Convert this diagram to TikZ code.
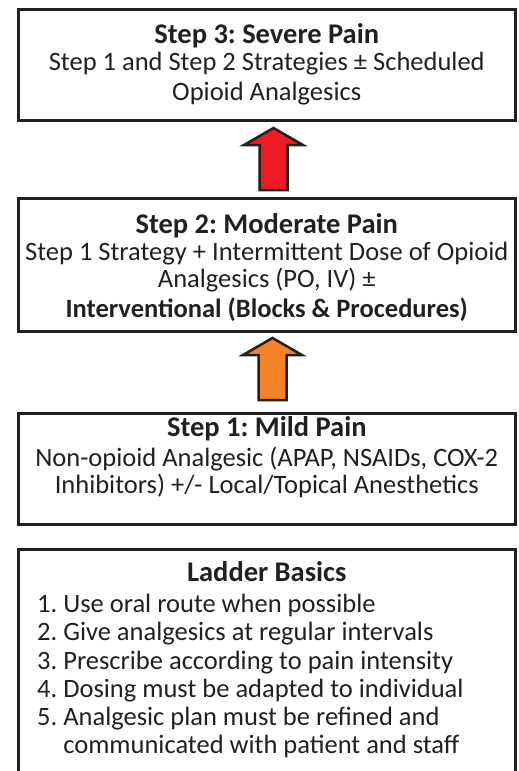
\documentclass[tikz,border=0pt]{standalone}
\usepackage{fontspec}
\setmainfont{Carlito}
\frenchspacing
\usetikzlibrary{positioning}
\definecolor{severered}{HTML}{ED1C24}
\definecolor{modorange}{HTML}{F58428}
\definecolor{inkline}{HTML}{231F20}
\newcommand{\steptitle}[1]{{\fontsize{28.5}{27}\selectfont\bfseries #1}}

\begin{document}
\begin{tikzpicture}[x=1pt,y=-1pt]
	\tikzstyle{stepbox}=[draw=inkline,line width=2.5pt,rectangle,minimum width=497pt,anchor=north west,inner sep=0pt]
	\tikzstyle{steptext}=[align=center,font=\fontsize{26.5}{27}\selectfont,inner sep=0pt,text=inkline]
	\tikzstyle{uparrow}=[draw=inkline,line width=2.5pt,line join=miter]
	\useasboundingbox (0,0) rectangle (519,771);

	% the three steps
	\node[stepbox,minimum height=111pt] (severe) at (17,8) {};
	\node[steptext,below=15pt of severe.north] (severetxt)
		{\steptitle{Step 3: Severe Pain}\\
		 Step 1 and Step 2 Strategies ± Scheduled\\[3pt]
		 Opioid Analgesics};
	\node[stepbox,minimum height=133pt] (moderate) at (17,197) {};
	\node[steptext,below=16pt of moderate.north] (moderatetxt)
		{\steptitle{Step 2: Moderate Pain}\\
		 Step 1 Strategy + Intermittent Dose of Opioid\\
		 Analgesics (PO, IV) ±\\[3pt]
		 \textbf{Interventional (Blocks \& Procedures)}};
	\node[stepbox,minimum height=111pt] (mild) at (17,412) {};
	\node[steptext,below=4pt of mild.north] (mildtxt)
		{\steptitle{Step 1: Mild Pain}\\[3pt]
		 Non-opioid Analgesic (APAP, NSAIDs, COX-2\\
		 Inhibitors) +/- Local/Topical Anesthetics};

	% arrows up the ladder
	\coordinate (redtip) at (273.5,128);
	\draw[uparrow,fill=severered] (redtip) -- ++(29.5,17) -- ++(-15.5,0) -- ++(0,45)
		-- ++(-28,0) -- ++(0,-45) -- ++(-15.5,0) -- cycle;
	\coordinate (orangetip) at (272.5,338);
	\draw[uparrow,fill=modorange] (orangetip) -- ++(29.5,17) -- ++(-15.5,0) -- ++(0,45)
		-- ++(-28,0) -- ++(0,-45) -- ++(-15.5,0) -- cycle;

	% basics
	\node[stepbox,minimum height=250pt] (basics) at (17,548) {};
	\node[steptext,below=13pt of basics.north] (basicstitle) {\steptitle{Ladder Basics}};
	\node[steptext,align=left,anchor=north west,font=\fontsize{26.5}{28.2}\selectfont]
		(basicslist) at (37,594)
		{1. Use oral route when possible\\
		 2. Give analgesics at regular intervals\\
		 3. Prescribe according to pain intensity\\
		 4. Dosing must be adapted to individual\\
		 5. Analgesic plan must be refined and\\
		 \hphantom{5. }communicated with patient and staff};
\end{tikzpicture}
\end{document}
